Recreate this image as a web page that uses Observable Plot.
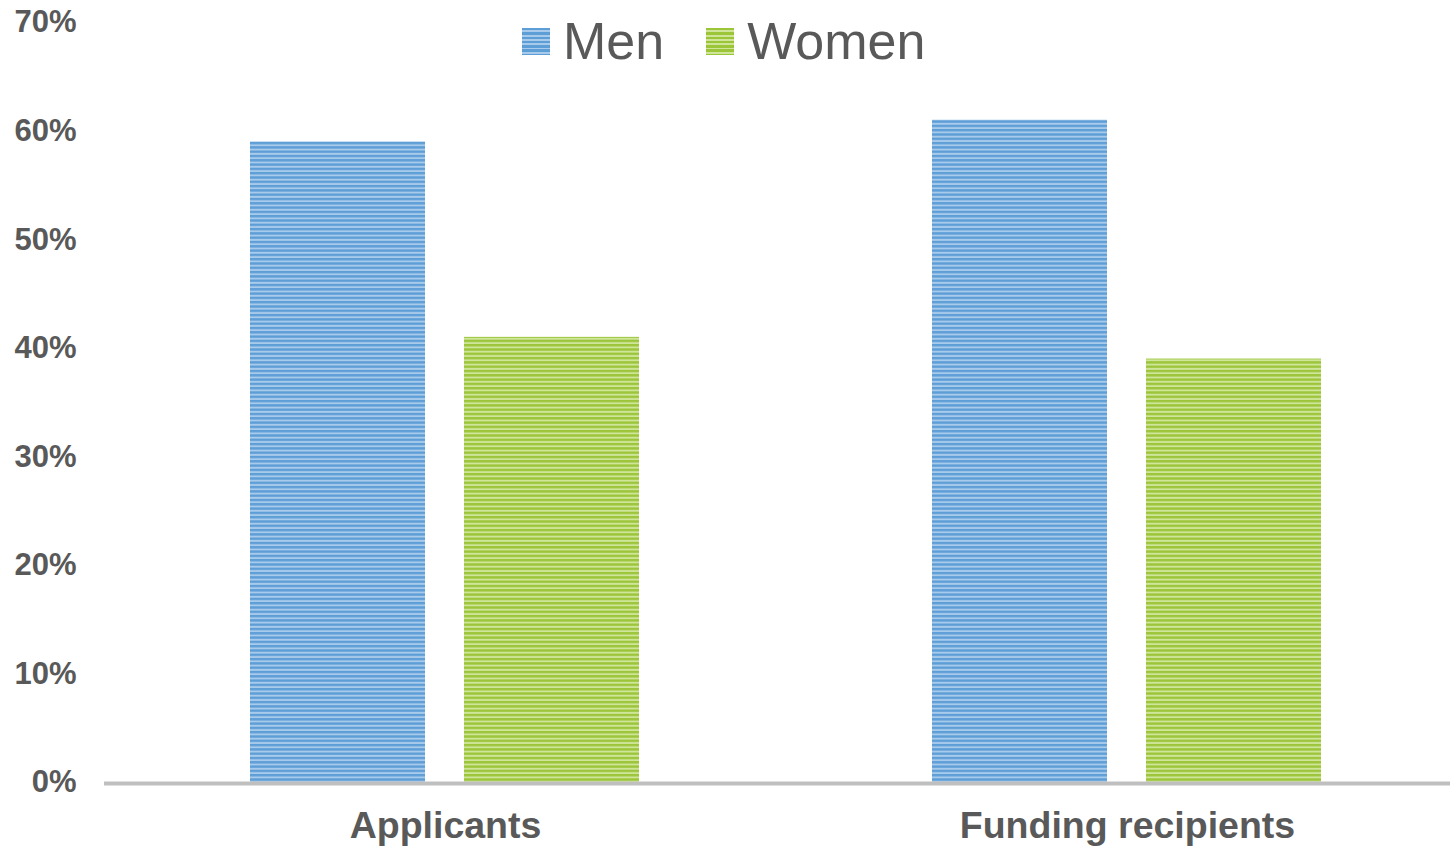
<!DOCTYPE html>
<html>
<head>
<meta charset="utf-8">
<script src="https://cdn.jsdelivr.net/npm/d3@7"></script>
<script src="https://cdn.jsdelivr.net/npm/@observablehq/plot@0.6"></script>
<style>
  html, body { margin: 0; padding: 0; background: #fff; overflow: hidden; }
  #wrap { position: relative; width: 1450px; height: 847px; overflow: hidden; font-family: "Liberation Sans", Arial, sans-serif; }
  #chart svg { max-width: none !important; height: 847px !important; }
  #legend { position: absolute; top: 12px; left: 522px; display: flex; align-items: center; color: #595959; font-size: 52px; line-height: 58px; }
  #legend .sw { width: 28px; height: 27px; display: inline-block; margin-right: 13px; }
  #legend .item { display: flex; align-items: center; margin-right: 42px; }
</style>
</head>
<body>
<div id="wrap">
  <div id="chart"></div>
  <div id="legend"></div>
</div>
<script>
const categories = ["Applicants", "Funding recipients"];
const series = ["Men", "Women"];
const men = [59, 61];
const women = [41, 39];
const yTicks = [0, 10, 20, 30, 40, 50, 60, 70];

const data = [];
categories.forEach((c, i) => {
  data.push({category: c, sex: "Men", value: men[i]});
  data.push({category: c, sex: "Women", value: women[i]});
});

const chart = Plot.plot({
  width: 1468,
  height: 847,
  marginLeft: 104,
  marginRight: 0,
  marginTop: 22,
  marginBottom: 65,
  style: {fontFamily: "'Liberation Sans', Arial, sans-serif", background: "white", maxWidth: "none"},
  fx: {domain: categories, paddingInner: 0, paddingOuter: 0, label: null, axis: null},
  x: {domain: series, paddingInner: 0.181, paddingOuter: 0.678, axis: null},
  y: {domain: [0, 70], axis: null},
  color: {domain: series, range: ["url(#pat-men)", "url(#pat-women)"]},
  marks: [
    Plot.barY(data, {fx: "category", x: "sex", y: "value", fill: "sex"}),
    Plot.ruleY([0], {stroke: "#bfbfbf", strokeWidth: 4, dy: 1}),
    Plot.axisY({ticks: yTicks, tickSize: 0, tickPadding: 28, tickFormat: d => d + "%", fontSize: 31, fontWeight: "bold", fill: "#595959", label: null}),
    Plot.axisFx({anchor: "bottom", tickSize: 0, tickPadding: 29, fontSize: 37.5, fontWeight: "bold", fill: "#595959", label: null})
  ]
});
chart.style.maxWidth = "none";

const defs = d3.select(chart).insert("defs", ":first-child");
function stripe(id, dark, light) {
  const p = defs.append("pattern").attr("id", id).attr("patternUnits", "userSpaceOnUse")
    .attr("width", 8).attr("height", 4.3);
  p.append("rect").attr("width", 8).attr("height", 4.3).attr("fill", light);
  p.append("rect").attr("width", 8).attr("height", 2.4).attr("fill", dark);
}
stripe("pat-men", "#5e9ed7", "#a9cbeb");
stripe("pat-women", "#9cc53a", "#cfe59a");

document.getElementById("chart").appendChild(chart);

const legend = document.getElementById("legend");
const swatchColors = {Men: "repeating-linear-gradient(#5e9ed7 0 2.4px, #a9cbeb 2.4px 4.3px)", Women: "repeating-linear-gradient(#9cc53a 0 2.4px, #cfe59a 2.4px 4.3px)"};
series.forEach(s => {
  const item = document.createElement("div");
  item.className = "item";
  const sw = document.createElement("span");
  sw.className = "sw";
  sw.style.background = swatchColors[s];
  item.appendChild(sw);
  const t = document.createElement("span");
  t.textContent = s;
  item.appendChild(t);
  legend.appendChild(item);
});
</script>
</body>
</html>
